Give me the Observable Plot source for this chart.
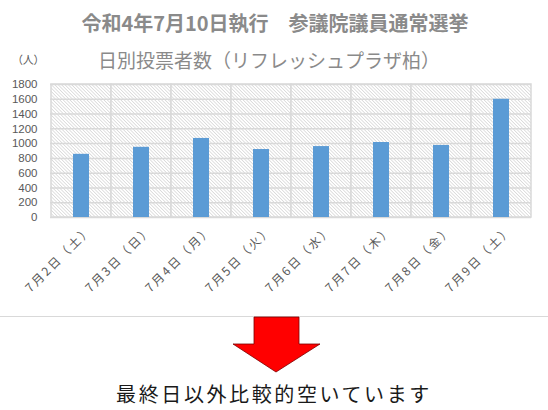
<!DOCTYPE html>
<html><head><meta charset="utf-8">
<script src="https://cdn.jsdelivr.net/npm/d3@7"></script>
<script src="https://cdn.jsdelivr.net/npm/@observablehq/plot@0.6"></script>
<style>
body{margin:0;background:#fff;font-family:"Noto Sans CJK JP",sans-serif;}
#wrap{position:relative;width:548px;height:410px;overflow:hidden;background:#fff;}
#chart{position:absolute;left:0;top:0;}
.t{position:absolute;left:0;width:548px;text-align:center;white-space:nowrap;color:#8a8a8a;line-height:1;}
#t1{top:13px;font-size:20px;font-weight:bold;left:1px;}
#t2{top:50px;font-size:19px;left:-5px;}
#unit{position:absolute;left:12px;top:54px;font-size:11px;color:#595959;line-height:1;letter-spacing:-0.3px;}
#hr{position:absolute;left:0;top:316px;width:548px;border-top:1px solid #d9d9d9;}
#arrow{position:absolute;left:0;top:0;}
#note{position:absolute;left:0;width:548px;top:384px;text-align:center;font-size:20px;line-height:1;color:#1a1a1a;letter-spacing:2.6px;}
</style></head><body>
<div id="wrap">
  <div id="chart"></div>
  <div class="t" id="t1">令和4年7月10日執行　参議院議員通常選挙</div>
  <div class="t" id="t2">日別投票者数（リフレッシュプラザ柏）</div>
  <div id="unit">（人）</div>
  <div id="hr"></div>
  <svg id="arrow" width="548" height="410"><polygon points="254,317 299,317 299,344 320,344 276,372 233,344 254,344" fill="#ff0000" stroke="#7a0000" stroke-width="0.8"/></svg>
  <div id="note">最終日以外比較的空いています</div>
</div>
<script>
const dates = ["7月2日（土）","7月3日（日）","7月4日（月）","7月5日（火）","7月6日（水）","7月7日（木）","7月8日（金）","7月9日（土）"];
const voters = [855, 950, 1070, 920, 960, 1015, 975, 1600];
const yTicks = [0, 200, 400, 600, 800, 1000, 1200, 1400, 1600, 1800];

const data = dates.map((d, i) => ({date: d, voters: voters[i]}));

const plot = Plot.plot({
  width: 548,
  height: 310,
  marginTop: 84,
  marginBottom: 93,
  marginLeft: 50,
  marginRight: 17,
  x: {domain: dates, padding: 0, label: null},
  y: {domain: [0, 1800], label: null},
  style: {fontFamily: "'Noto Sans CJK JP', sans-serif", color: "#595959", background: "transparent"},
  marks: [
    Plot.cell(dates, {x: d => d, fill: "url(#hatch)", stroke: "#d9d9d9", strokeWidth: 1.5, inset: 0}),
    Plot.ruleY(yTicks, {stroke: "#d9d9d9", strokeWidth: 1.5}),
    Plot.barY(data, {x: "date", y: "voters", fill: "#5b9bd5", insetLeft: 22, insetRight: 22}),
    Plot.axisY({ticks: yTicks, tickFormat: d => String(d), tickSize: 0, tickPadding: 13, fontSize: 11.5, fontFamily: "'Liberation Sans', Arial, sans-serif", fill: "#595959"}),
    Plot.axisX({className: "xt", tickRotate: -45, tickSize: 0, tickPadding: 4, dx: 9, dy: 6, fontSize: 12, fill: "#595959"})
  ]
});

const svg = d3.select(plot);
const defs = svg.insert("defs", ":first-child");
const pat = defs.append("pattern")
  .attr("id", "hatch")
  .attr("patternUnits", "userSpaceOnUse")
  .attr("width", 2.4).attr("height", 2.4)
  .attr("patternTransform", "rotate(-45)");
pat.append("rect").attr("width", 2.4).attr("height", 2.4).attr("fill", "#ffffff");
pat.append("line").attr("x1", 0.4).attr("y1", 0).attr("x2", 0.4).attr("y2", 2.4)
  .attr("stroke", "#d4d4d4").attr("stroke-width", 0.7);
svg.selectAll("text").filter(function() { return this.closest("g.xt") || (this.parentNode.getAttribute("aria-label") || "").startsWith("x-axis"); })
  .style("letter-spacing", "2.2px");

document.getElementById("chart").appendChild(plot);
</script>
</body></html>
